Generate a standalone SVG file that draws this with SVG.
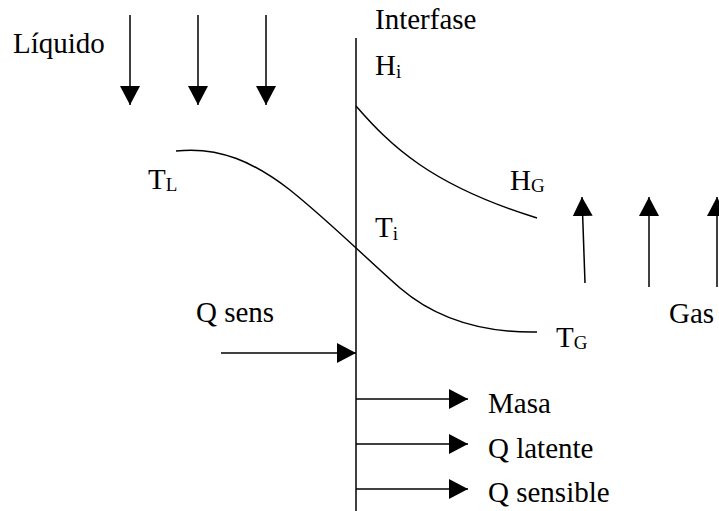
<svg xmlns="http://www.w3.org/2000/svg" width="719" height="511" viewBox="0 0 719 511">
  <style>
    text { font-family: "Liberation Serif", "Times New Roman", Times, serif; font-size: 29px; fill: #000; }
    .sub { font-size: 19px; }
    .ln { stroke: #000; stroke-width: 1.5; fill: none; }
  </style>
  <defs>
    <marker id="ah" viewBox="0 0 19 20" refX="19" refY="10" markerWidth="19" markerHeight="20" markerUnits="userSpaceOnUse" orient="auto">
      <path d="M0,0 L19,10 L0,20 Z" fill="#000"/>
    </marker>
  </defs>
  <rect width="719" height="511" fill="#fff"/>

  <g id="interface-line">
    <line class="ln" x1="356" y1="38" x2="356" y2="511"/>
  </g>

  <g id="curves">
    <path id="curve-H" class="ln" d="M356,106 C390,145 430,185 537,218"/>
    <path id="curve-T" class="ln" d="M176,151 C220,146 255,163 290,190 C330,222 370,262 400,288 C435,318 480,333 537,332"/>
  </g>

  <g id="connectors">
    <line class="ln" x1="130" y1="15" x2="130" y2="105" marker-end="url(#ah)"/>
    <line class="ln" x1="198" y1="15" x2="198" y2="105" marker-end="url(#ah)"/>
    <line class="ln" x1="266" y1="15" x2="266" y2="105" marker-end="url(#ah)"/>
    <line class="ln" x1="585" y1="283" x2="582" y2="197" marker-end="url(#ah)"/>
    <line class="ln" x1="649" y1="287" x2="649" y2="197" marker-end="url(#ah)"/>
    <line class="ln" x1="717" y1="287" x2="717" y2="197" marker-end="url(#ah)"/>
    <line class="ln" x1="221" y1="353" x2="356" y2="353" marker-end="url(#ah)"/>
    <line class="ln" x1="356" y1="399" x2="468" y2="399" marker-end="url(#ah)"/>
    <line class="ln" x1="356" y1="444" x2="468" y2="444" marker-end="url(#ah)"/>
    <line class="ln" x1="356" y1="489" x2="468" y2="489" marker-end="url(#ah)"/>
  </g>

  <g id="liquido"><text x="13" y="53" font-family="Liberation Serif, serif">Líquido</text></g>
  <g id="interfase"><text x="375" y="29" font-family="Liberation Serif, serif">Interfase</text></g>
  <g id="Hi"><text x="375" y="75" font-family="Liberation Serif, serif">H<tspan class="sub" dy="3">i</tspan></text></g>
  <g id="HG"><text x="510" y="190" font-family="Liberation Serif, serif">H<tspan class="sub" dy="2">G</tspan></text></g>
  <g id="TL"><text x="148" y="189" font-family="Liberation Serif, serif">T<tspan class="sub" dy="2">L</tspan></text></g>
  <g id="Ti"><text x="375" y="237" font-family="Liberation Serif, serif">T<tspan class="sub" dy="3">i</tspan></text></g>
  <g id="TG"><text x="556" y="347" font-family="Liberation Serif, serif">T<tspan class="sub" dy="2">G</tspan></text></g>
  <g id="gas"><text x="669" y="323" font-family="Liberation Serif, serif">Gas</text></g>
  <g id="qsens"><text x="196" y="322" font-family="Liberation Serif, serif">Q sens</text></g>
  <g id="masa"><text x="488" y="413" font-family="Liberation Serif, serif">Masa</text></g>
  <g id="qlatente"><text x="488" y="458" font-family="Liberation Serif, serif">Q latente</text></g>
  <g id="qsensible"><text x="488" y="502" font-family="Liberation Serif, serif">Q sensible</text></g>
</svg>
